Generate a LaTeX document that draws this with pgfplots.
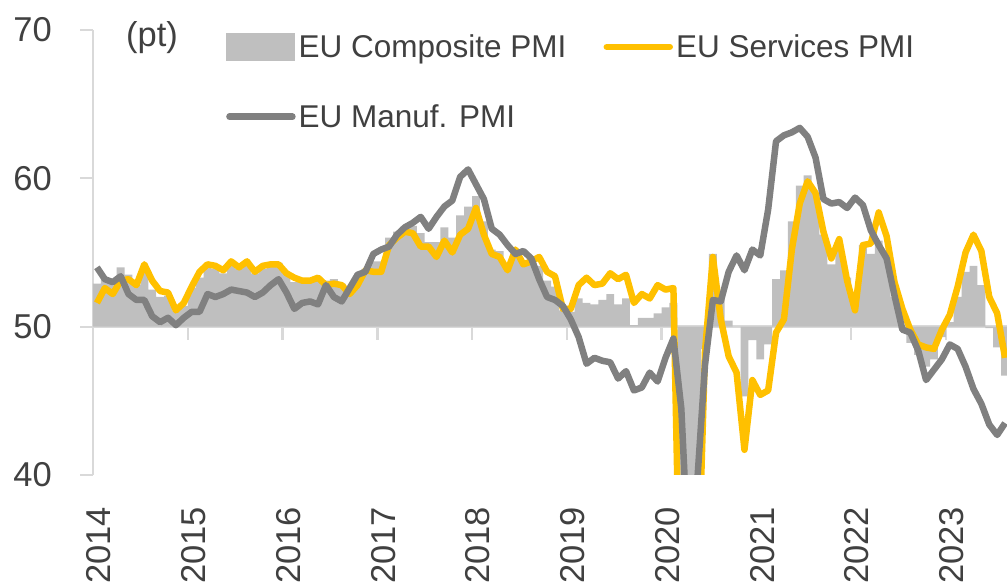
\documentclass[border=0pt]{standalone}
\usepackage{pgfplots}
\pgfplotsset{compat=1.18}
\usepackage{pgfplotstable}
\usepackage{fontspec}
\setmainfont{Liberation Sans}
\definecolor{barc}{HTML}{BFBFBF}
\definecolor{servc}{HTML}{FFC000}
\definecolor{manc}{HTML}{808080}
\definecolor{axc}{HTML}{D9D9D9}
\definecolor{txt}{HTML}{404040}
\newcommand{\tickfont}{\fontsize{34.5}{40}\selectfont}
\newcommand{\legfont}{\fontsize{31.5}{38}\selectfont}
\pgfplotsset{
  linelegend/.style={legend image code/.code={\draw[##1, line cap=round] (3pt,0pt) -- (66pt,0pt);}},
  boxlegend/.style={legend image code/.code={\fill[##1] (0pt,-13.7pt) rectangle (69pt,13.7pt);}},
}
\pgfplotstableread{
i serv manuf
0 51.6 54.0
1 52.6 53.2
2 52.2 53.0
3 53.1 53.4
4 53.2 52.2
5 52.8 51.8
6 54.2 51.8
7 53.1 50.7
8 52.4 50.3
9 52.3 50.6
10 51.1 50.1
11 51.6 50.6
12 52.7 51.0
13 53.7 51.0
14 54.2 52.2
15 54.1 52.0
16 53.8 52.2
17 54.4 52.5
18 54.0 52.4
19 54.4 52.3
20 53.7 52.0
21 54.1 52.3
22 54.2 52.8
23 54.2 53.2
24 53.6 52.3
25 53.3 51.2
26 53.1 51.6
27 53.1 51.7
28 53.3 51.5
29 52.8 52.8
30 52.9 52.0
31 52.8 51.7
32 52.2 52.6
33 52.8 53.5
34 53.8 53.7
35 53.7 54.9
36 53.7 55.2
37 55.5 55.4
38 56.0 56.2
39 56.4 56.7
40 56.3 57.0
41 55.4 57.4
42 55.4 56.6
43 54.7 57.4
44 55.8 58.1
45 55.0 58.5
46 56.2 60.1
47 56.6 60.6
48 58.0 59.6
49 56.2 58.6
50 54.9 56.6
51 54.7 56.2
52 53.8 55.5
53 55.2 54.9
54 54.2 55.1
55 54.4 54.6
56 54.7 53.2
57 53.7 52.0
58 53.4 51.8
59 51.2 51.4
60 51.2 50.5
61 52.8 49.3
62 53.3 47.5
63 52.8 47.9
64 52.9 47.7
65 53.6 47.6
66 53.2 46.5
67 53.5 47.0
68 51.6 45.7
69 52.2 45.9
70 51.9 46.9
71 52.8 46.3
72 52.5 47.9
73 52.6 49.2
74 26.4 44.5
75 12.0 33.4
76 30.5 39.4
77 48.3 47.4
78 54.7 51.8
79 50.5 51.7
80 48.0 53.7
81 46.9 54.8
82 41.7 53.8
83 46.4 55.2
84 45.4 54.8
85 45.7 57.9
86 49.6 62.5
87 50.5 62.9
88 55.2 63.1
89 58.3 63.4
90 59.8 62.8
91 59.0 61.4
92 56.4 58.6
93 54.6 58.3
94 55.9 58.4
95 53.1 58.0
96 51.1 58.7
97 55.5 58.2
98 55.6 56.5
99 57.7 55.5
100 56.1 54.6
101 53.0 52.1
102 51.2 49.8
103 49.8 49.6
104 48.8 48.4
105 48.6 46.4
106 48.5 47.1
107 49.8 47.8
108 50.8 48.8
109 52.7 48.5
110 55.0 47.3
111 56.2 45.8
112 55.1 44.8
113 52.0 43.4
114 50.9 42.7
115 47.9 43.5
}\lines
\pgfplotstableread{
x comp
0 50
0 52.9
1 53.3
2 53.1
3 54.0
4 53.5
5 52.8
6 53.8
7 52.5
8 52.0
9 52.1
10 51.1
11 51.4
12 52.6
13 53.3
14 54.0
15 53.9
16 53.6
17 54.2
18 53.9
19 54.3
20 53.6
21 53.9
22 54.2
23 54.3
24 53.6
25 53.0
26 53.1
27 53.0
28 53.1
29 53.1
30 53.2
31 52.9
32 52.6
33 53.3
34 53.9
35 54.4
36 54.4
37 56.0
38 56.4
39 56.8
40 56.8
41 56.3
42 55.7
43 55.7
44 56.7
45 56.0
46 57.5
47 58.1
48 58.8
49 57.1
50 55.2
51 55.1
52 54.1
53 54.9
54 54.3
55 54.5
56 54.1
57 53.1
58 52.7
59 51.1
60 51.0
61 51.9
62 51.6
63 51.5
64 51.8
65 52.2
66 51.5
67 51.9
68 50.1
69 50.6
70 50.6
71 50.9
72 51.3
73 51.6
74 29.7
75 13.6
76 31.9
77 48.5
78 54.9
79 51.9
80 50.4
81 50.0
82 45.3
83 49.1
84 47.8
85 48.8
86 53.2
87 53.8
88 57.1
89 59.5
90 60.2
91 59.0
92 56.2
93 54.2
94 55.4
95 53.3
96 52.3
97 55.5
98 54.9
99 55.8
100 54.8
101 52.0
102 49.9
103 48.9
104 48.1
105 47.3
106 47.8
107 49.3
108 50.3
109 52.0
110 53.7
111 54.1
112 52.8
113 49.9
114 48.6
115 46.7
116 46.7
116 50
}\comp
\begin{document}
\begin{tikzpicture}
\path[use as bounding box] (-93pt,-108pt) rectangle (914pt,475pt);
\begin{axis}[
  at={(0pt,0pt)}, anchor=south west,
  scale only axis, width=916pt, height=445pt,
  xmin=0, xmax=116, ymin=40, ymax=70,
  clip mode=individual,
  axis x line*=bottom, axis y line*=left,
  x axis line style={draw=none},
  y axis line style={draw=axc, line width=2pt, -},
  xtick={0,12,24,36,48,60,72,84,96,108},
  xticklabels={2014,2015,2016,2017,2018,2019,2020,2021,2022,2023},
  xtick style={draw=none},
  ytick={40,50,60,70},
  yticklabels={40,50,60,70},
  ytick style={draw=axc, line width=2pt},
  tick align=outside, major tick length=13pt,
  yticklabel style={font=\tickfont, text=txt, anchor=east, inner sep=0pt, xshift=-28pt},
  xticklabel style={font=\tickfont, text=txt, anchor=east, inner sep=0pt, xshift=6pt, yshift=-19pt, rotate=90},
  legend columns=2,
  legend cell align=left,
  legend style={at={(0,1)}, anchor=north west, xshift=133pt, yshift=-3pt,
    draw=none, fill=none, inner sep=0pt, font=\legfont, text=txt,
    nodes={inner sep=0pt},
    row sep=44pt,
    /tikz/every odd column/.append style={column sep=3pt},
    /tikz/every even column/.append style={column sep=37pt}},
]
\draw[axc, line width=3pt] (axis cs:0,50) -- (axis cs:116,50);
\pgfplotsinvokeforeach{12,24,36,48,60,72,84,96,108}{
  \draw[axc, line width=2.5pt] (axis cs:#1,50) -- ++(0pt,-13pt);
}
\addplot[fill=barc, draw=none, const plot mark left, boxlegend] table[x=x, y=comp]{\comp} -- cycle;
\addplot[servc, line width=6.5pt, line join=round, linelegend] table[x expr=\thisrow{i}+0.5, y=serv]{\lines};
\addplot[manc, line width=6.5pt, line join=round, linelegend] table[x expr=\thisrow{i}+0.5, y=manuf]{\lines};
\legend{EU Composite PMI, EU Services PMI, EU Manuf. PMI}
\node[anchor=base west, inner sep=0pt, font=\tickfont, text=txt] at (axis cs:4.18,68.92) {(pt)};
\end{axis}
\end{tikzpicture}
\end{document}
